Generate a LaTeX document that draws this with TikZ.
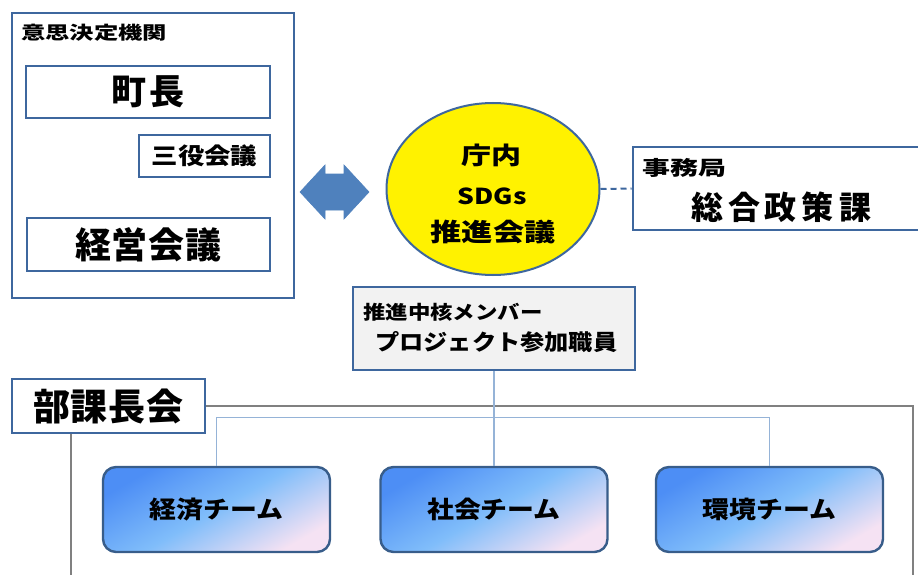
\documentclass[tikz,border=0pt]{standalone}
\usepackage{fontspec}
\setmainfont{Noto Sans CJK JP}
\usetikzlibrary{shapes.geometric}
\definecolor{bl}{RGB}{62,103,158}
\definecolor{arrowbl}{RGB}{79,129,189}
\definecolor{lightbl}{RGB}{149,179,215}
\definecolor{frgrey}{RGB}{128,128,128}
\definecolor{teambd}{RGB}{56,93,138}
\definecolor{teamtop}{RGB}{77,142,245}
\definecolor{teammid}{RGB}{128,189,250}
\definecolor{teambot}{RGB}{245,226,243}
\definecolor{grayfill}{RGB}{242,242,242}
\newcommand\sx[2]{\scalebox{#1}[1]{#2}}
\newcommand\fs[1]{\fontsize{#1}{#1}\selectfont\bfseries}
\begin{document}
\begin{tikzpicture}[x=1pt,y=-1pt,
  box/.style={draw=bl,line width=2.6pt,fill=white,inner sep=0pt},
  txt/.style={inner sep=0pt,text=black},
  team/.style={draw=teambd,line width=2.4pt,rounded corners=13pt,
    minimum width=227pt,minimum height=85pt,inner sep=0pt,
    top color=teamtop,bottom color=teambot,middle color=teammid,shading angle=30,
    font=\fs{24}},
  conn/.style={draw=lightbl,line width=1.2pt},
  frame/.style={draw=frgrey,line width=2.6pt}]
\useasboundingbox (0,0) rectangle (918,575);
\clip (0,0) rectangle (918,575);
\fill[white] (0,0) rectangle (918,575);

% decision making body
\node[box,minimum width=282pt,minimum height=285pt] (dm) at (153,155.5) {};
\node[txt,anchor=west,font=\fs{18}] (dmlabel) at (21,33) {\sx{1.35}{意思決定機関}};
\node[box,minimum width=244pt,minimum height=52pt,font=\fs{35}] (chocho) at (148,92) {町\hspace{3pt}長};
\node[box,minimum width=131pt,minimum height=42pt,font=\fs{23}] (sanyaku) at (204.5,156) {\sx{1.15}{三役会議}};
\node[box,minimum width=243pt,minimum height=53pt,font=\fs{36}] (keiei) at (148.5,244.5) {経\hspace{1pt}営\hspace{1pt}会\hspace{1pt}議};

% double arrow
\draw[fill=arrowbl,draw=arrowbl,line width=0.6pt,line join=miter]
  (300,192) -- (325,165) -- (325,174) -- (344,174) -- (344,165) -- (369,192)
  -- (344,219) -- (344,210) -- (325,210) -- (325,219) -- cycle;

% SDGs council
\node[ellipse,draw=bl,line width=2pt,fill=yellow,minimum width=213pt,minimum height=172pt,inner sep=0pt] (ell) at (493,189) {};
\node[txt,font=\fs{24}] (l1) at (491,155) {\sx{1.25}{庁内}};
\node[txt,font=\fs{22}] (l2) at (492,196) {\sx{1.2}{SDGs}};
\node[txt,font=\fs{25}] (l3) at (493,232) {\sx{1.25}{推進会議}};

% secretariat
\node[box,minimum width=292pt,minimum height=83pt] (jimu) at (779,188.5) {};
\node[txt,anchor=west,font=\fs{20}] (jimulabel) at (642,168) {\sx{1.4}{事務局}};
\node[txt,font=\fs{32}] (somu) at (781,207) {総\hspace{5pt}合\hspace{5pt}政\hspace{5pt}策\hspace{5pt}課};
\draw[bl,line width=2pt,dashed,dash pattern=on 6pt off 4pt] (ell.east) -- (jimu.west);

% core members
\node[box,fill=grayfill,minimum width=282pt,minimum height=83pt] (sui) at (494,328.5) {};
\node[txt,anchor=west,font=\fs{19}] (sui1) at (363,312) {\sx{1.18}{推進中核メンバー}};
\node[txt,anchor=west,font=\fs{22}] (sui2) at (375,342) {\sx{1.1}{プロジェクト参加職員}};

% department heads frame
\coordinate (frTR) at (913,406);
\coordinate (frBR) at (913,580);
\coordinate (frBL) at (71,580);
\node[box,minimum width=193pt,minimum height=54pt,font=\fs{37}] (buka) at (108.5,406) {部\hspace{1pt}課\hspace{1pt}長\hspace{1pt}会};
\draw[frame] (buka.east) -- (frTR) -- (frBR);
\draw[frame] (buka.south -| frBL) -- (frBL);

% teams
\node[team] (kei) at (216.5,509.5) {\sx{1.12}{経済チーム}};
\node[team] (sha) at (494,509.5) {\sx{1.12}{社会チーム}};
\node[team] (kan) at (769.5,509.5) {\sx{1.12}{環境チーム}};

\draw[conn] (sui.south) -- (sha.north);
\draw[conn] (kei.north) -- ++(0,-48) -| (kan.north);
\end{tikzpicture}
\end{document}
